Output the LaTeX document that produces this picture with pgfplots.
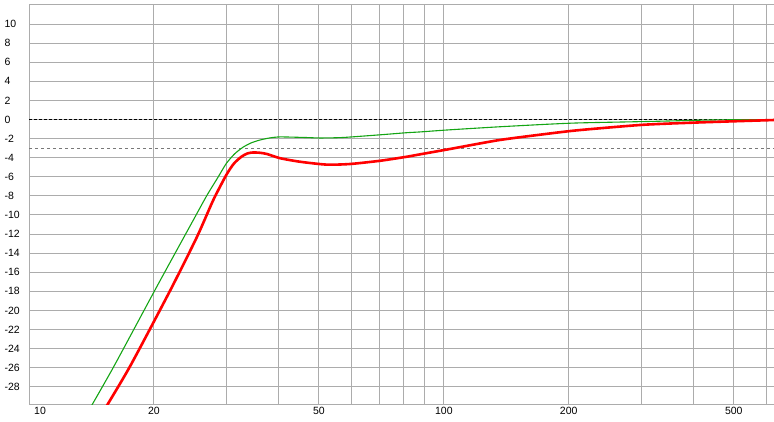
\documentclass[border=0pt]{standalone}
\usepackage{pgfplots}
\pgfplotsset{compat=1.18}
\usepackage{fontspec}
\setmainfont{Liberation Sans}
\usetikzlibrary{calc}
\definecolor{gridgray}{RGB}{172,172,172}
\definecolor{mygreen}{RGB}{20,165,20}
\definecolor{dashgray}{RGB}{120,120,120}
\begin{document}
\begin{tikzpicture}
\begin{axis}[
  scale only axis,
  width=745pt, height=399pt,
  xmode=log, log basis x=10,
  xmin=10, xmax=625,
  ymin=-29.8, ymax=12,
  axis x line*=box, axis y line*=left,
  axis line style={gridgray, line width=1pt},
  xtick={20,30,40,50,60,70,80,90,100,200,300,400,500,600},
  xticklabels={20,,,50,,,,,100,200,,,500,},
  extra x ticks={10},
  extra x tick labels={10},
  extra x tick style={grid=none, xticklabel style={xshift=11pt}},
  ytick={-28,-26,...,10},
  major tick length=0pt,
  grid=major,
  major grid style={gridgray, line width=1pt},
  tick label style={font=\fontsize{10.5}{12}\selectfont, black},
  /pgf/number format/assume math mode=true,
  yticklabel style={anchor=west, xshift=-28pt},
  xticklabel style={yshift=0pt},
  log ticks with fixed point,
]
\addplot[black, line width=1pt, dash pattern=on 3pt off 2pt] coordinates {(10,0) (625,0)};
\addplot[dashgray, line width=1pt, dash pattern=on 3pt off 3pt] coordinates {(10,-3) (625,-3)};
\addplot[mygreen, line width=1.1pt, smooth, tension=0.4] coordinates {
(13.8,-30.8) (16.0,-25.9) (20.1,-17.9) (22.7,-13.7) (24.7,-10.8) (26.8,-8.0) (28.5,-6.1)
(29.9,-4.6) (31.3,-3.6) (32.8,-2.9) (34.3,-2.45)
(36.0,-2.15) (38.0,-1.93) (40.3,-1.82) (46.3,-1.88) (50.3,-1.93) (57.1,-1.88)
(70.2,-1.6) (81.3,-1.38) (87.5,-1.3) (103,-1.08) (136,-0.76) (180,-0.48)
(213,-0.35) (313,-0.2) (414,-0.07) (500,-0.02) (625,0)
};
\addplot[red, line width=2.6pt, smooth, tension=0.4] coordinates {
(15.0,-30.8) (17.5,-25.9) (21.9,-17.9) (25.4,-12.3) (27.8,-8.45) (29.9,-5.8)
(31.2,-4.6) (32.5,-3.9) (33.6,-3.55) (34.7,-3.45) (36.0,-3.48)
(37.4,-3.6) (40.3,-4.05) (45.0,-4.42) (52.1,-4.72) (59.3,-4.66) (70.2,-4.32)
(81.3,-3.9) (87.5,-3.65) (103,-3.1) (136,-2.15) (180,-1.46) (213,-1.1)
(302,-0.55) (414,-0.3) (546,-0.13) (625,-0.05)
};
\end{axis}
\pgfresetboundingbox
\path[use as bounding box] ($(current axis.south west)+(-29pt,-17pt)$) rectangle ($(current axis.north east)+(0pt,5pt)$);
\end{tikzpicture}
\end{document}
